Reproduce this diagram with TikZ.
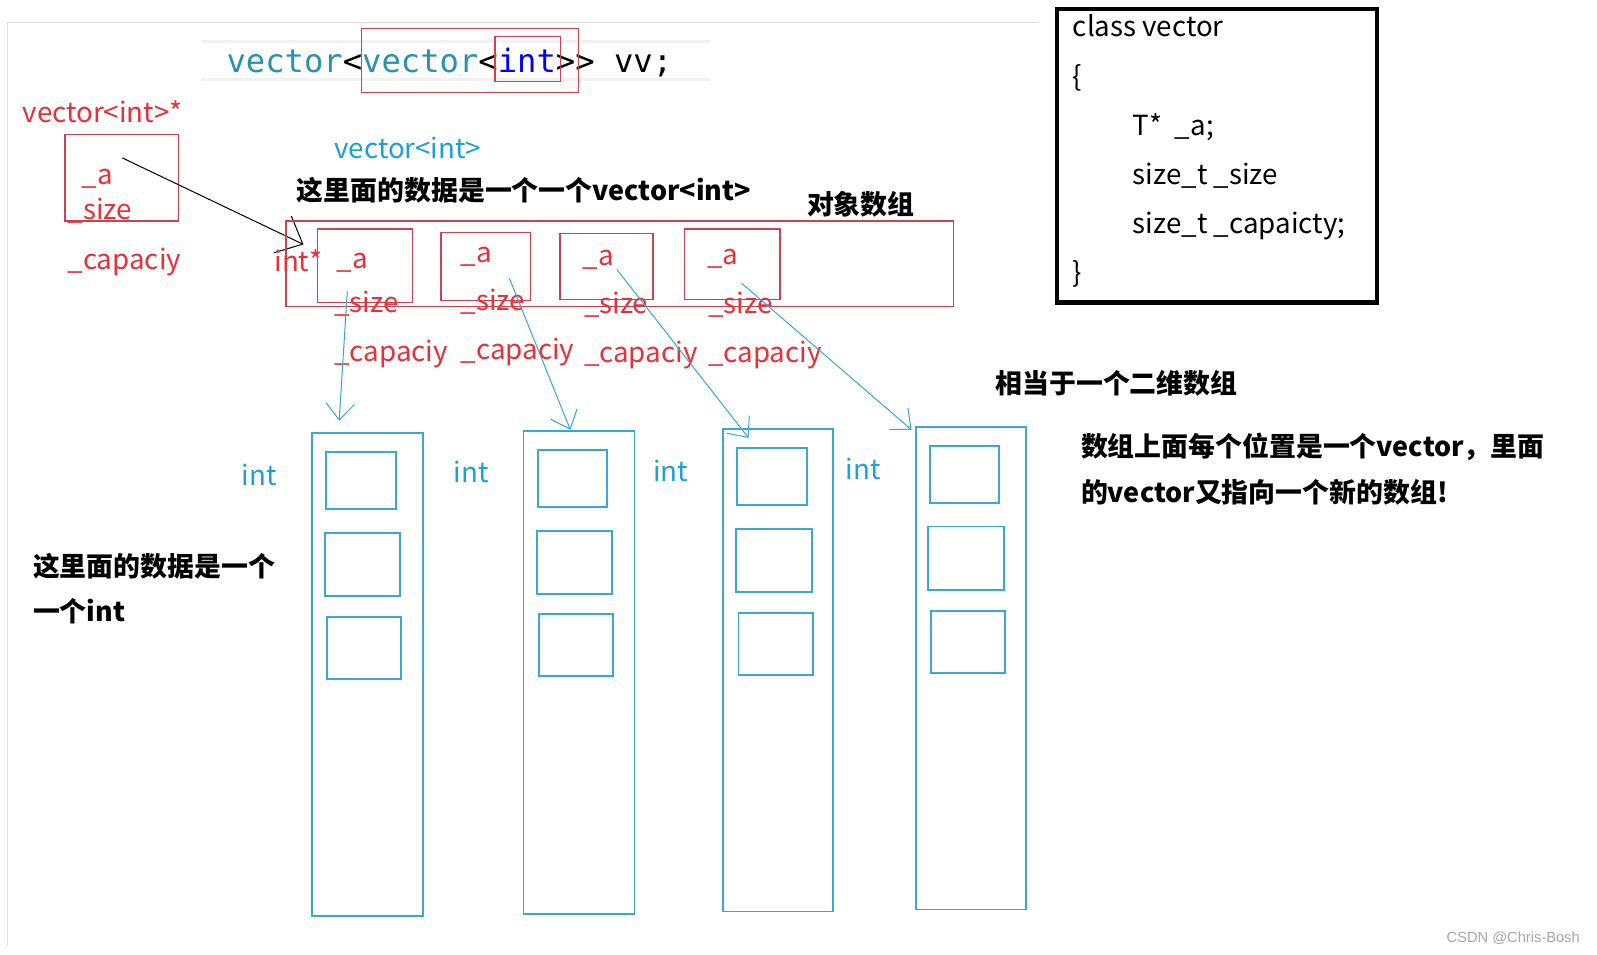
\documentclass[tikz,border=0pt]{standalone}
\usepackage{fontspec}
\setmainfont{Noto Sans CJK SC}
\setmonofont{DejaVu Sans Mono}
\newfontfamily\markfont{Liberation Sans}
\usepackage{tikz}
\usetikzlibrary{positioning,arrows.meta}
\usepackage{xcolor}

\definecolor{vred}{RGB}{232,48,58}
\definecolor{boxred}{RGB}{208,64,80}
\definecolor{vcyan}{RGB}{30,159,216}
\definecolor{boxblue}{RGB}{58,168,208}
\definecolor{codeteal}{RGB}{43,145,175}

\tikzset{
  lbl/.style={anchor=base west, inner sep=0pt, font=\fontsize{13.6}{16}\selectfont},
  redlbl/.style={lbl, text=vred},
  cyanlbl/.style={lbl, text=vcyan},
  note/.style={anchor=base west, inner sep=0pt, font=\fontsize{13.2}{16}\selectfont\bfseries},
  redbox/.style={draw=boxred, line width=0.7pt},
  bluebox/.style={draw=boxblue, line width=0.9pt},
  bluearrow/.style={draw=boxblue, line width=0.5pt, -{Straight Barb[length=8pt,width=14pt]}},
  blackarrow/.style={draw=black, line width=0.5pt, -{Straight Barb[length=11pt,width=20pt]}}
}

\begin{document}
\begin{tikzpicture}[x=0.5pt, y=-0.5pt]
        \useasboundingbox (0,0) rectangle (1568,937);

        % page frame
        \draw[gray!25, line width=0.6pt] (7,928) -- (7,22) -- (1020,22);

        % code line
        \fill[gray!10] (197,39) rectangle (697,42);
        \fill[gray!10] (197,77) rectangle (697,80);
        \node[anchor=base west, inner sep=0pt, font=\ttfamily\fontsize{15.8}{18}\selectfont] (code) at (222,71)
            {{\color{codeteal}vector}<{\color{codeteal}vector}<{\color{blue}int}>> vv;};
        \draw[boxred, line width=0.6pt] (355,28) rectangle (568,91);
        \draw[boxred, line width=0.6pt] (486,36) rectangle (550,80);

        % vector<int>* on the left
        \node[redlbl] (vptr) at (22,120) {vector<int>*};
        \draw[redbox] (64,132) rectangle (175,217);
        \node[redlbl] (pa) at (80,181) {\_a};
        \node[redlbl] (psize) at (66,216) {\_size};
        \node[redlbl] (pcap) at (66,265) {\_capaciy};
        \coordinate (pstart) at (120,155);
        \coordinate (ptip) at (298,240);
        \draw[blackarrow] (pstart) -- (ptip);

        % object array
        \node[cyanlbl] (vint) at (328,156) {vector<int>};
        \node[note] (objtxt) at (291,197) {这里面的数据是一个一个vector<int>};
        \node[note] (objarr) at (792,211) {对象数组};
        \draw[redbox] (281,217) rectangle (936,301);
        \node[redlbl] (intp) at (269,267) {int*};

        % Element 1
        \draw[redbox] (312,225) rectangle (405,297);
        \node[redlbl] (a1) at (330,264) {\_a};
        \node[redlbl] (s1) at (328,307) {\_size};
        \node[redlbl] (c1) at (328,355) {\_capaciy};

        % Element 2
        \draw[redbox] (433,228) rectangle (521,295);
        \node[redlbl] (a2) at (452,258) {\_a};
        \node[redlbl] (s2) at (452,305) {\_size};
        \node[redlbl] (c2) at (452,353) {\_capaciy};

        % Element 3
        \draw[redbox] (550,229) rectangle (641,294);
        \node[redlbl] (a3) at (572,261) {\_a};
        \node[redlbl] (s3) at (573,308) {\_size};
        \node[redlbl] (c3) at (573,356) {\_capaciy};

        % Element 4
        \draw[redbox] (672,225) rectangle (766,294);
        \node[redlbl] (a4) at (694,260) {\_a};
        \node[redlbl] (s4) at (695,308) {\_size};
        \node[redlbl] (c4) at (695,356) {\_capaciy};

        % int arrays
        \draw[bluebox] (306,425) rectangle (415,899);
        \draw[bluebox] (320,444) rectangle (389,500);
        \draw[bluebox] (319,523) rectangle (393,585);
        \draw[bluebox] (321,606) rectangle (394,667);
        \node[cyanlbl] (i1) at (237,477) {int};

        \draw[bluebox] (514,423) rectangle (623,897);
        \draw[bluebox] (528,442) rectangle (596,498);
        \draw[bluebox] (527,521) rectangle (601,583);
        \draw[bluebox] (529,603) rectangle (602,664);
        \node[cyanlbl] (i2) at (445,474) {int};

        \draw[bluebox] (710,421) rectangle (818,895);
        \draw[bluebox] (724,440) rectangle (792,496);
        \draw[bluebox] (723,519) rectangle (797,581);
        \draw[bluebox] (725,602) rectangle (798,663);
        \node[cyanlbl] (i3) at (641,473) {int};

        \draw[bluebox] (899,419) rectangle (1007,893);
        \draw[bluebox] (913,438) rectangle (981,494);
        \draw[bluebox] (911,517) rectangle (986,579);
        \draw[bluebox] (914,600) rectangle (987,661);
        \node[cyanlbl] (i4) at (830,471) {int};

        % pointers down to the arrays
        \coordinate (from1) at (341,286);
        \coordinate (to1) at (333,413);
        \coordinate (from2) at (500,273);
        \coordinate (to2) at (560,422);
        \coordinate (from3) at (606,265);
        \coordinate (to3) at (735,430);
        \coordinate (from4) at (728,278);
        \coordinate (to4) at (895,422);
        \draw[bluearrow] (from1) -- (to1);
        \draw[bluearrow] (from2) -- (to2);
        \draw[bluearrow] (from3) -- (to3);
        \draw[bluearrow] (from4) -- (to4);

        % notes
        \node[note] (n1) at (32,566) {这里面的数据是一个};
        \node[note] (n2) at (32,610) {一个int};
        \node[note] (n3) at (977,386) {相当于一个二维数组};
        \node[note] (n4) at (1061,448) {数组上面每个位置是一个vector，里面};
        \node[note] (n5) at (1061,493) {的vector又指向一个新的数组!};

        % class vector
        \draw[black, line width=2pt] (1038,9) rectangle (1352,297);
        \node[lbl] (cls) at (1053,36) {class vector};
        \node[lbl] (ob) at (1053,85) {\{};
        \node[lbl] (m1) at (1112,133) {T*\ \ \_a;};
        \node[lbl] (m2) at (1112,181) {size\_t \_size};
        \node[lbl] (m3) at (1112,229) {size\_t \_capaicty;};
        \node[lbl] (cb) at (1053,277) {\}};

        \node[anchor=base west, inner sep=0pt, text=gray!70, font=\markfont\fontsize{7.2}{9}\selectfont] (mark) at (1420,925) {CSDN @Chris-Bosh};
    \end{tikzpicture}
\end{document}
